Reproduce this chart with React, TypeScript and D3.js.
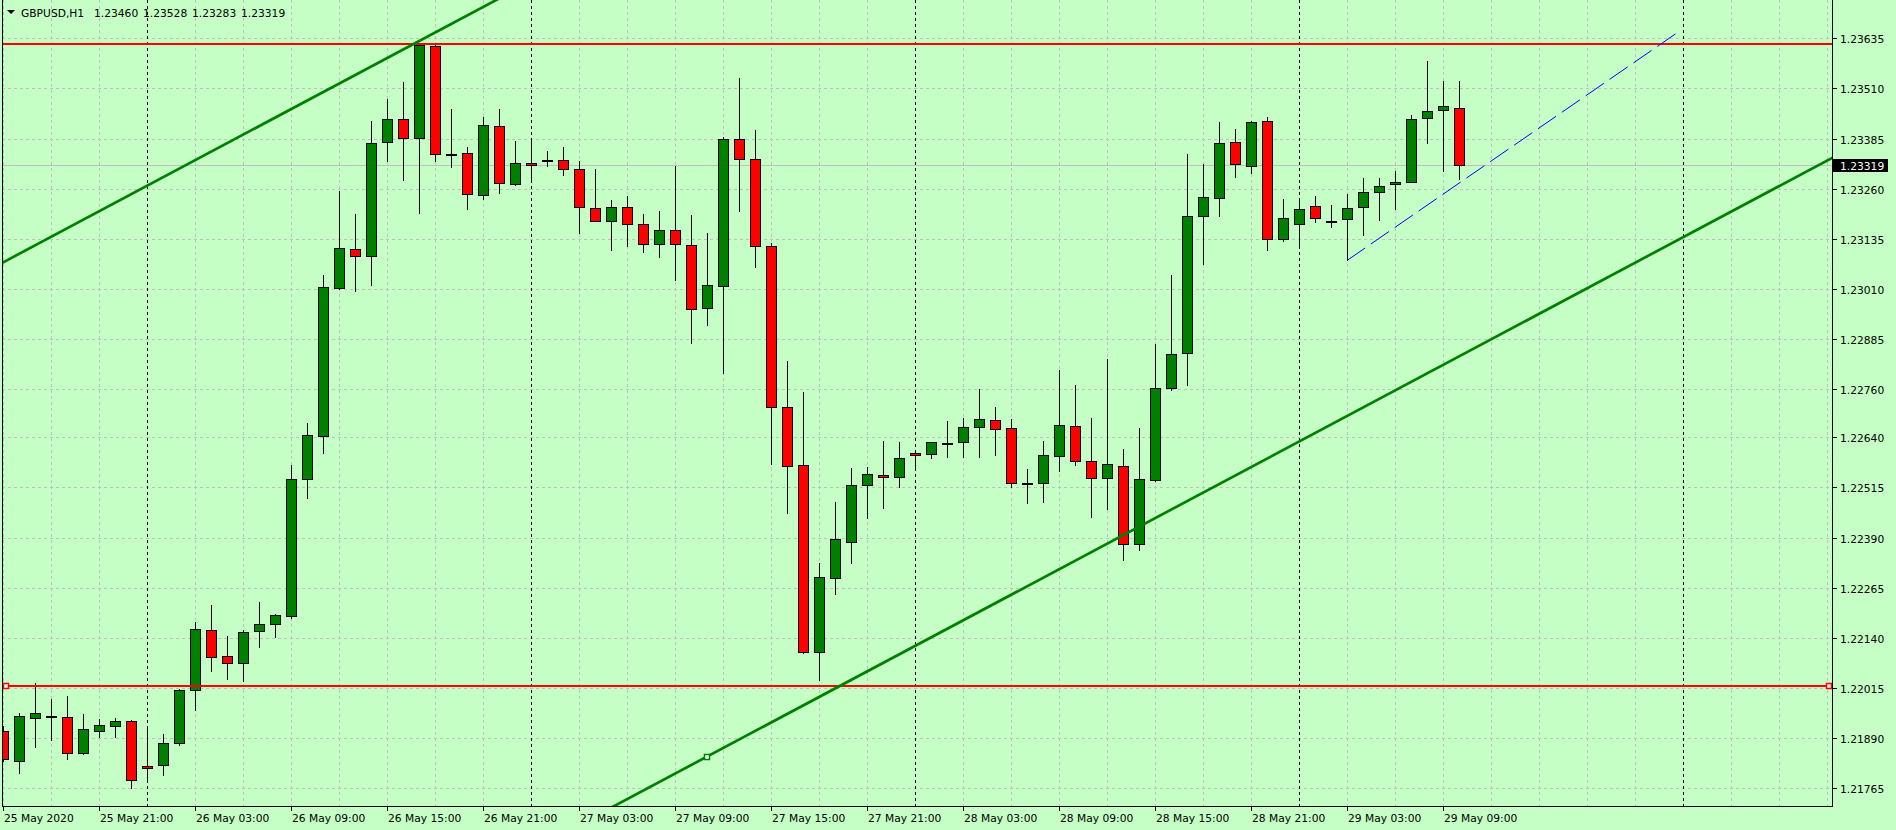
import React from "react";
import * as d3 from "d3";

const W = 1896;
const H = 830;

const headerSymbol = "GBPUSD,H1";
const headerValues = ["1.23460", "1.23528", "1.23283", "1.23319"];

// hourly bars: 25 May 2020 15:00 .. 29 May 2020 10:00
const barStart = new Date(2020, 4, 25, 15);
const barEnd = new Date(2020, 4, 29, 11);
const barTimes = d3.timeHours(barStart, barEnd);

const opens = [
  1.21907, 1.21832, 1.21941, 1.21946, 1.21942, 1.21854, 1.21909, 1.2192, 1.21932, 1.2182,
  1.21824, 1.21877, 1.22009, 1.2216, 1.22094, 1.22077, 1.22156, 1.22174, 1.22194, 1.22537,
  1.22644, 1.23013, 1.23109, 1.23093, 1.23376, 1.23433, 1.23387, 1.23616, 1.23347, 1.23348,
  1.23244, 1.23416, 1.23271, 1.23323, 1.23332, 1.23331, 1.23308, 1.23213, 1.2318, 1.23215,
  1.23173, 1.23122, 1.23156, 1.23119, 1.22963, 1.23017, 1.23383, 1.23333, 1.23118, 1.22715,
  1.2257, 1.22104, 1.22289, 1.22378, 1.2252, 1.22545, 1.2254, 1.226, 1.22598, 1.22625,
  1.22628, 1.22665, 1.22683, 1.22663, 1.22526, 1.22526, 1.22593, 1.22668, 1.2258, 1.22538,
  1.22568, 1.22373, 1.22533, 1.22762, 1.2285, 1.23191, 1.23236, 1.23376, 1.23316, 1.23428,
  1.23134, 1.23171, 1.23216, 1.2318, 1.23184, 1.23214, 1.23251, 1.23271, 1.23276, 1.23436,
  1.23455, 1.2346,
];
const highs = [
  1.21921, 1.21952, 1.22028, 1.21988, 1.21995, 1.21951, 1.21938, 1.2194, 1.21935, 1.21912,
  1.21901, 1.22013, 1.22179, 1.22223, 1.22144, 1.2216, 1.2223, 1.22199, 1.2257, 1.22675,
  1.23044, 1.23254, 1.23197, 1.23429, 1.23484, 1.23526, 1.23622, 1.23618, 1.23459, 1.23364,
  1.23438, 1.23459, 1.23379, 1.23385, 1.23354, 1.23364, 1.23329, 1.23309, 1.23231, 1.23242,
  1.23197, 1.23204, 1.23316, 1.23194, 1.23149, 1.2339, 1.23536, 1.23406, 1.23125, 1.2283,
  1.22752, 1.22326, 1.22478, 1.22563, 1.22566, 1.22631, 1.22628, 1.22603, 1.22628, 1.22681,
  1.22688, 1.22761, 1.22716, 1.22686, 1.2256, 1.22631, 1.22808, 1.22771, 1.22688, 1.22836,
  1.22611, 1.22664, 1.22873, 1.23045, 1.23347, 1.23322, 1.23426, 1.23409, 1.2343, 1.23438,
  1.23234, 1.23232, 1.23242, 1.23219, 1.23247, 1.23287, 1.23287, 1.23304, 1.23444, 1.23578,
  1.23528, 1.23528,
];
const lows = [
  1.21832, 1.21803, 1.21869, 1.21885, 1.21839, 1.2185, 1.21893, 1.21893, 1.21766, 1.21787,
  1.21799, 1.21872, 1.21961, 1.22058, 1.22038, 1.22032, 1.22118, 1.22143, 1.2219, 1.2249,
  1.22602, 1.2301, 1.23006, 1.2302, 1.23328, 1.23282, 1.232, 1.23328, 1.23315, 1.2321,
  1.23235, 1.2325, 1.2327, 1.23282, 1.23317, 1.23294, 1.2315, 1.2318, 1.23107, 1.23118,
  1.23102, 1.2309, 1.23033, 1.22875, 1.2292, 1.228, 1.23204, 1.23064, 1.22574, 1.22452,
  1.22103, 1.22035, 1.22249, 1.22326, 1.2244, 1.22465, 1.22515, 1.22565, 1.22588, 1.22592,
  1.22592, 1.22592, 1.22597, 1.22517, 1.22476, 1.2248, 1.22555, 1.22572, 1.22442, 1.22462,
  1.22333, 1.22358, 1.2253, 1.22757, 1.22771, 1.23072, 1.23192, 1.2329, 1.23298, 1.23108,
  1.2313, 1.2312, 1.23178, 1.23165, 1.23081, 1.23145, 1.23182, 1.2321, 1.23276, 1.23375,
  1.23303, 1.23283,
];
const closes = [
  1.21837, 1.21945, 1.21952, 1.21946, 1.21854, 1.21912, 1.21922, 1.21932, 1.21785, 1.21815,
  1.21878, 1.22009, 1.22161, 1.22092, 1.22077, 1.22154, 1.22174, 1.22196, 1.22537, 1.22646,
  1.23014, 1.23111, 1.23091, 1.23373, 1.23433, 1.23386, 1.23618, 1.23347, 1.23347, 1.23246,
  1.23418, 1.23274, 1.23323, 1.23318, 1.23332, 1.23308, 1.23215, 1.2318, 1.23215, 1.23172,
  1.23122, 1.23156, 1.23122, 1.2296, 1.23021, 1.23383, 1.23335, 1.23118, 1.22715, 1.22568,
  1.22104, 1.22291, 1.22386, 1.2252, 1.22548, 1.2254, 1.22588, 1.22595, 1.22628, 1.22625,
  1.22665, 1.22685, 1.2266, 1.22525, 1.22526, 1.22595, 1.2267, 1.2258, 1.22538, 1.22573,
  1.22373, 1.22536, 1.22762, 1.22847, 1.23191, 1.23239, 1.23373, 1.23321, 1.23426, 1.23134,
  1.23186, 1.23209, 1.23186, 1.23176, 1.23211, 1.23251, 1.23266, 1.23276, 1.23433, 1.23453,
  1.23465, 1.23319,
];

const priceTicks = [
  1.23635, 1.2351, 1.23385, 1.2326, 1.23135, 1.2301, 1.22885, 1.2276, 1.2264, 1.22515,
  1.2239, 1.22265, 1.2214, 1.22015, 1.2189, 1.21765,
];
const timeLabels = [
  "25 May 2020", "25 May 21:00", "26 May 03:00", "26 May 09:00", "26 May 15:00", "26 May 21:00",
  "27 May 03:00", "27 May 09:00", "27 May 15:00", "27 May 21:00", "28 May 03:00", "28 May 09:00",
  "28 May 15:00", "28 May 21:00", "29 May 03:00", "29 May 09:00",
];
const timeLabelStep = 6;
const gridStep = 3;
const totalSlots = 115;

const currentPrice = 1.23319;
const horizontalLevels = [1.23621, 1.22021];
const upperChannel = [{ bar: -1, price: 1.23055 }, { bar: 26, price: 1.23628 }];
const lowerChannel = [{ bar: 44, price: 1.21844 }, { bar: 114, price: 1.2333 }];
const dashedTrend = [{ bar: 84, price: 1.23081 }, { bar: 104.75, price: 1.23652 }];

const BG = "#c5ffc5";
const GRID = "#c0c0c0";
const BULL = "#008000";
const BEAR = "#ff0000";
const FONT = "DejaVu Sans";
const FS = 10.7;

const plotLeft = 2;
const plotRight = 1832;
const plotBottom = 806;

export default function App() {
  const x = d3.scaleLinear().domain([0, 1]).range([3, 19]);
  const y = d3.scaleLinear().domain([1.21765, 1.23635]).range([788.3, 38.3]);
  const ry = (p: number) => Math.round(y(p));

  const slots = d3.range(totalSlots);
  const slotTime = (i: number) => d3.timeHour.offset(barStart, i);
  const separators = slots.filter((i) => slotTime(i).getHours() === 0);
  const gridVerts = slots.filter((i) => i % gridStep === 0 && slotTime(i).getHours() !== 0);

  const extend = (pts: { bar: number; price: number }[], b0: number, b1: number) => {
    const slope = (pts[1].price - pts[0].price) / (pts[1].bar - pts[0].bar);
    const f = (b: number) => pts[0].price + slope * (b - pts[0].bar);
    const line = d3.line<number>().x((b) => x(b)).y((b) => y(f(b)));
    return line([b0, b1]) || "";
  };

  const lowerLevelY = ry(horizontalLevels[1]);
  const anchorPrice = lowerChannel[0].price;

  return (
    <div style={{ position: "absolute", left: 0, top: 0 }}>
      <style>{"body{margin:0;}"}</style>
      <svg width={W} height={H} style={{ display: "block" }} fontFamily={FONT}>
        <defs>
          <clipPath id="plot">
            <rect x={plotLeft + 1} y={0} width={plotRight - plotLeft - 1} height={plotBottom} />
          </clipPath>
        </defs>
        <rect x={0} y={0} width={W} height={H} fill={BG} />

        {/* horizontal grid */}
        {priceTicks.map((p) => (
          <line key={"hg" + p} x1={plotLeft} x2={plotRight} y1={ry(p) + 0.5} y2={ry(p) + 0.5}
            stroke={GRID} strokeDasharray="3,3" />
        ))}
        {/* vertical grid */}
        {gridVerts.map((i) => (
          <line key={"vg" + i} x1={x(i) + 0.5} x2={x(i) + 0.5} y1={0} y2={plotBottom}
            stroke={GRID} strokeDasharray="3,3" />
        ))}
        {/* day separators */}
        {separators.map((i) => (
          <line key={"sep" + i} x1={x(i) + 0.5} x2={x(i) + 0.5} y1={0} y2={plotBottom}
            stroke="#000" strokeDasharray="3,3" />
        ))}
        {/* bid line */}
        <line x1={plotLeft} x2={plotRight} y1={ry(currentPrice) + 0.5} y2={ry(currentPrice) + 0.5}
          stroke={GRID} />

        <g clipPath="url(#plot)">
          {barTimes.map((t, i) => {
            const cx = Math.round(x(i));
            const o = opens[i], c = closes[i];
            const top = ry(Math.max(o, c));
            const bot = ry(Math.min(o, c));
            const h = Math.max(1, bot - top);
            const fill = c > o ? BULL : c < o ? BEAR : "#000";
            return (
              <g key={"c" + i}>
                <line x1={cx + 0.5} x2={cx + 0.5} y1={ry(highs[i])} y2={ry(lows[i]) + 1} stroke="#000" />
                <rect x={cx - 4.5} y={top + 0.5} width={10} height={h} fill={fill} stroke="#000" />
              </g>
            );
          })}

          {/* horizontal levels */}
          {horizontalLevels.map((p) => (
            <line key={"lvl" + p} x1={plotLeft} x2={plotRight} y1={ry(p)} y2={ry(p)} stroke={BEAR} strokeWidth={2} />
          ))}
          {/* channel lines */}
          <path d={extend(upperChannel, -5, 60)} stroke={BULL} strokeWidth={2.7} fill="none" />
          <path d={extend(lowerChannel, 30, 130)} stroke={BULL} strokeWidth={2.7} fill="none" />
          <path d={extend(dashedTrend, dashedTrend[0].bar, dashedTrend[1].bar)} stroke="#0000ff"
            strokeWidth={1} fill="none" strokeDasharray="22,7" />
          <rect x={Math.round(x(lowerChannel[0].bar)) - 2.5} y={ry(anchorPrice) - 2.5} width={5} height={5}
            fill="#ffffff" stroke={BULL} strokeWidth={1.5} />
        </g>
        {/* level markers */}
        <rect x={3.5} y={lowerLevelY - 2.5} width={5} height={5} fill="#ffffff" stroke={BEAR} strokeWidth={1.5} />
        <rect x={plotRight - 5.5} y={lowerLevelY - 2.5} width={5} height={5} fill="#ffffff" stroke={BEAR} strokeWidth={1.5} />

        {/* frame */}
        <line x1={plotLeft + 0.5} x2={plotLeft + 0.5} y1={0} y2={plotBottom + 1} stroke="#000" />
        <line x1={plotRight + 0.5} x2={plotRight + 0.5} y1={0} y2={plotBottom + 1} stroke="#000" />
        <line x1={plotLeft} x2={plotRight + 1} y1={plotBottom + 0.5} y2={plotBottom + 0.5} stroke="#000" />

        {/* price axis */}
        {priceTicks.map((p) => (
          <g key={"pt" + p}>
            <line x1={plotRight + 1} x2={plotRight + 5} y1={ry(p) + 0.5} y2={ry(p) + 0.5} stroke="#000" />
            <text x={plotRight + 8} y={ry(p) + 4.5} fontSize={FS} fill="#000">{p.toFixed(5)}</text>
          </g>
        ))}
        <rect x={plotRight + 1} y={ry(currentPrice) - 6} width={55} height={13} fill="#000" />
        <text x={plotRight + 8} y={ry(currentPrice) + 4.5} fontSize={FS} fill="#ffffff">{currentPrice.toFixed(5)}</text>

        {/* time axis */}
        {timeLabels.map((lbl, k) => {
          const tx = Math.round(x(k * timeLabelStep));
          return (
            <g key={"tl" + k}>
              <line x1={tx + 0.5} x2={tx + 0.5} y1={plotBottom + 1} y2={plotBottom + 5} stroke="#000" />
              <text x={tx + 1} y={plotBottom + 16} fontSize={FS} fill="#000">{lbl}</text>
            </g>
          );
        })}

        {/* header */}
        <path d="M7,10 L15,10 L11,14 Z" fill="#000" />
        <text x={21} y={17} fontSize={FS} fill="#000">{headerSymbol}</text>
        {headerValues.map((v, k) => (
          <text key={"hv" + k} x={94 + 49 * k} y={17} fontSize={FS} fill="#000">{v}</text>
        ))}
      </svg>
    </div>
  );
}
